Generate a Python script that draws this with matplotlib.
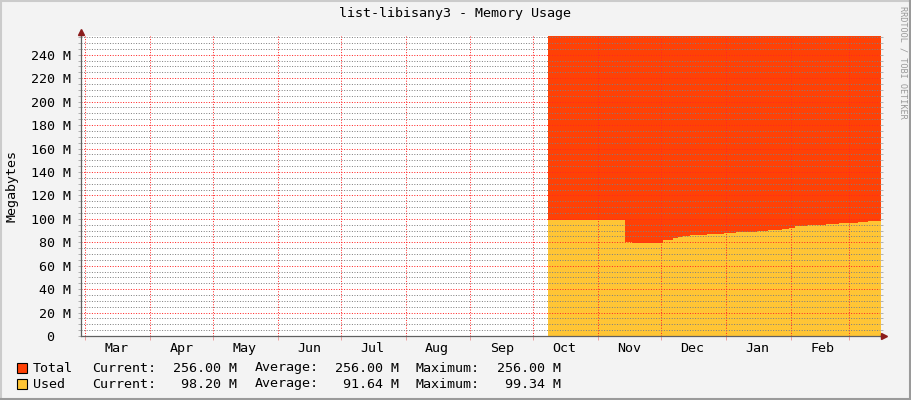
import numpy as np
import pandas as pd
import matplotlib
matplotlib.use("Agg")
import matplotlib.pyplot as plt
import matplotlib.dates as mdates
from matplotlib.lines import Line2D

# chart data (megabytes), step values starting at each date
total_dates = ["2013-10-08", "2014-03-16"]
total_vals = [256.0, 256.0]

used_dates = ["2013-10-08", "2013-10-11", "2013-10-12", "2013-10-17", "2013-10-19",
              "2013-10-24", "2013-10-31", "2013-11-04", "2013-11-06", "2013-11-14",
              "2013-11-17", "2013-12-02", "2013-12-07", "2013-12-09", "2013-12-11",
              "2013-12-15", "2013-12-23", "2013-12-31", "2014-01-06", "2014-01-16",
              "2014-01-21", "2014-01-28", "2014-01-31", "2014-02-03", "2014-02-09",
              "2014-02-18", "2014-02-24", "2014-03-05", "2014-03-10", "2014-03-16"]
used_vals = [99.3, 98.6, 99.3, 98.8, 99.2,
             98.6, 99.3, 98.7, 99.2, 80.3,
             79.7, 81.7, 83.7, 84.8, 85.7,
             86.3, 87.1, 88.2, 89.1, 89.7,
             90.8, 91.7, 92.5, 94.0, 94.5,
             95.7, 96.8, 97.6, 98.2, 98.2]

series_names = ["Total", "Used"]
series_colors = ["#ff4105", "#ffc535"]
cur_text = ["256.00 M", "98.20 M"]
avg_text = ["256.00 M", "91.64 M"]
max_text = ["256.00 M", "99.34 M"]

y_ticks = [0, 20, 40, 60, 80, 100, 120, 140, 160, 180, 200, 220, 240]
y_labels = ["0  "] + [f"{v} M" for v in y_ticks[1:]]

x_start = pd.Timestamp("2013-02-26 23:00")
x_end = pd.Timestamp("2014-03-15 16:00")

W, H = 911, 400
mono = "DejaVu Sans Mono"
fs = 9.6

fig = plt.figure(figsize=(W / 100, H / 100), dpi=100, facecolor="#f3f3f3")

# frame around the picture
fig.add_artist(Line2D([1 / W, 1 / W], [0, 1], color="#cbcbcb", lw=1.5))
fig.add_artist(Line2D([0, 1], [1 - 1 / H, 1 - 1 / H], color="#cbcbcb", lw=1.5))
fig.add_artist(Line2D([1 - 1 / W, 1 - 1 / W], [0, 1], color="#9a9a9a", lw=1.5))
fig.add_artist(Line2D([0, 1], [1 / H, 1 / H], color="#9a9a9a", lw=1.5))

ax = fig.add_axes([81 / W, 64 / H, 799 / W, 300 / H])
ax.set_facecolor("white")

td = pd.to_datetime(total_dates)
ud = pd.to_datetime(used_dates)
ax.fill_between(td, total_vals, step="post", color=series_colors[0], lw=0, zorder=1)
ax.fill_between(ud, used_vals, step="post", color=series_colors[1], lw=0, zorder=2)

ax.set_xlim(x_start, x_end)
ax.set_ylim(0, 256)

dots = (0, (1, 1.6))
minor_col = (0.5, 0.5, 0.5, 0.24)
major_col = (1.0, 0.15, 0.15, 0.26)

# y grid
ax.set_yticks(y_ticks)
ax.set_yticklabels(y_labels, fontfamily=mono, fontsize=fs)
ax.set_yticks(np.arange(0, 257, 5), minor=True)
ax.grid(which="minor", axis="y", color=minor_col, lw=0.72, ls=dots, zorder=3)
ax.grid(which="major", axis="y", color=major_col, lw=0.72, ls=dots, zorder=3)

# x grid, month lines and mid-month labels
ax.xaxis.set_major_locator(mdates.MonthLocator())
ax.xaxis.set_major_formatter(plt.NullFormatter())
ax.xaxis.set_minor_locator(mdates.MonthLocator(bymonthday=16))
ax.xaxis.set_minor_formatter(mdates.DateFormatter("%b"))
ax.grid(which="major", axis="x", color=major_col, lw=0.72, ls=dots, zorder=3)
ax.set_axisbelow(False)

ax.tick_params(axis="x", which="major", direction="out", length=3, width=0.7, color="#eba0a0")
ax.tick_params(axis="x", which="minor", length=0, pad=4)
ax.tick_params(axis="y", which="both", direction="out", length=2.5, width=0.7,
               color="#b0b0b0", right=True, pad=5)
for lab in ax.get_xticklabels(minor=True):
    lab.set_fontfamily(mono)
    lab.set_fontsize(fs)

for side in ["top", "right"]:
    ax.spines[side].set_visible(False)
for side in ["left", "bottom"]:
    ax.spines[side].set_color("#606060")
    ax.spines[side].set_linewidth(0.9)
    ax.spines[side].set_zorder(5)

# axis arrows
ax_l, ax_b, ax_r, ax_t = 81 / W, 64 / H, 880 / W, 364 / H
fig.add_artist(Line2D([ax_l, ax_l], [ax_t, 1 - 32 / H], color="#606060", lw=0.9))
fig.add_artist(Line2D([ax_r, 884 / W], [ax_b, ax_b], color="#606060", lw=0.9))
fig.add_artist(Line2D([ax_l], [1 - 32 / H], marker="^", ms=4.5, color="#8b1c1c", lw=0))
fig.add_artist(Line2D([884 / W], [ax_b], marker=">", ms=4.5, color="#8b1c1c", lw=0))

# titles
fig.text(455 / W, 1 - 14 / H, "list-libisany3 - Memory Usage", ha="center", va="center",
         fontfamily=mono, fontsize=fs, color="black")
fig.text(12 / W, 1 - 186 / H, "Megabytes", rotation=90, ha="center", va="center",
         fontfamily=mono, fontsize=fs, color="black")
fig.text(903 / W, 1 - 6 / H, "RRDTOOL / TOBI OETIKER", rotation=270, ha="center", va="top",
         fontfamily=mono, fontsize=6.1, color="#999999")

# legend
rows_y = [368, 384]
for i in range(2):
    yy = 1 - rows_y[i] / H
    fig.patches.append(plt.Rectangle((17 / W, yy - 5 / H), 10 / W, 10 / H,
                                     transform=fig.transFigure, facecolor=series_colors[i],
                                     edgecolor="black", lw=0.8))
    kw = dict(va="center", fontfamily=mono, fontsize=fs, color="black")
    fig.text(33 / W, yy, series_names[i], ha="left", **kw)
    fig.text(92 / W, yy, "Current:", ha="left", **kw)
    fig.text(237 / W, yy, cur_text[i], ha="right", **kw)
    fig.text(255 / W, yy, "Average:", ha="left", **kw)
    fig.text(399 / W, yy, avg_text[i], ha="right", **kw)
    fig.text(416 / W, yy, "Maximum:", ha="left", **kw)
    fig.text(561 / W, yy, max_text[i], ha="right", **kw)

fig.savefig("out.png", dpi=100, facecolor=fig.get_facecolor())
